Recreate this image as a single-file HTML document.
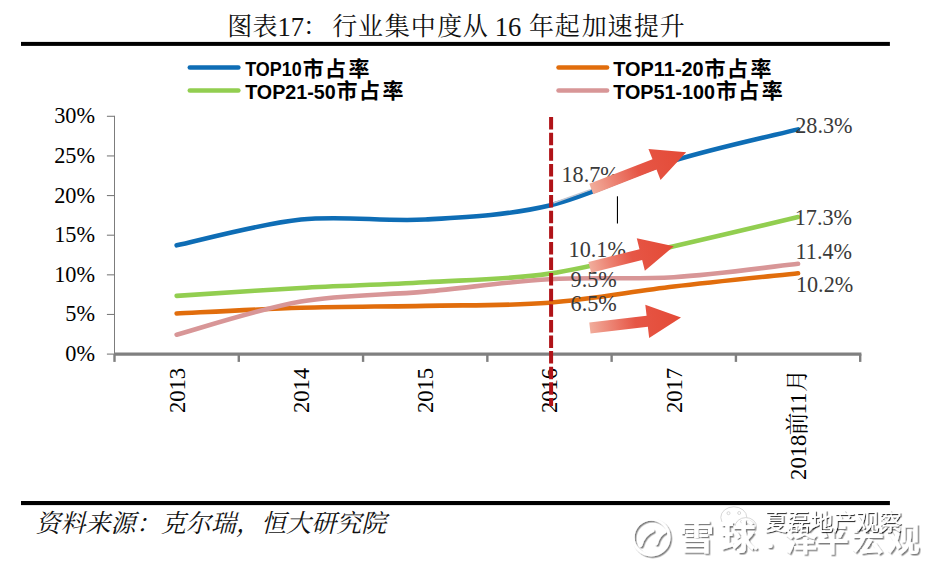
<!DOCTYPE html>
<html><head><meta charset="utf-8"><title>chart</title>
<style>html,body{margin:0;padding:0;background:#fff;overflow:hidden}svg{display:block}text{font-family:"Liberation Serif",serif}</style></head><body>
<svg width="932" height="564" viewBox="0 0 932 564">
<rect width="932" height="564" fill="#fff"/>
<rect x="21" y="41.9" width="868.9" height="4" fill="#000"/>
<rect x="21" y="501" width="868.9" height="4.1" fill="#000"/>
<path d="M114.5 115.8 V354.1" stroke="#7c7c7c" stroke-width="1" fill="none"/>
<path d="M106.9 354.1 H114.5" stroke="#7c7c7c" stroke-width="1.1" fill="none"/>
<path d="M106.9 314.47 H114.5" stroke="#7c7c7c" stroke-width="1.1" fill="none"/>
<path d="M106.9 274.83 H114.5" stroke="#7c7c7c" stroke-width="1.1" fill="none"/>
<path d="M106.9 235.2 H114.5" stroke="#7c7c7c" stroke-width="1.1" fill="none"/>
<path d="M106.9 195.57 H114.5" stroke="#7c7c7c" stroke-width="1.1" fill="none"/>
<path d="M106.9 155.93 H114.5" stroke="#7c7c7c" stroke-width="1.1" fill="none"/>
<path d="M106.9 116.3 H114.5" stroke="#7c7c7c" stroke-width="1.1" fill="none"/>
<path d="M114 354.1 H861.4" stroke="#808080" stroke-width="3.2" fill="none"/>
<path d="M114.5 354.1 V361.9" stroke="#808080" stroke-width="2.4" fill="none"/>
<path d="M238.78 354.1 V361.9" stroke="#808080" stroke-width="2.4" fill="none"/>
<path d="M363.07 354.1 V361.9" stroke="#808080" stroke-width="2.4" fill="none"/>
<path d="M487.35 354.1 V361.9" stroke="#808080" stroke-width="2.4" fill="none"/>
<path d="M611.63 354.1 V361.9" stroke="#808080" stroke-width="2.4" fill="none"/>
<path d="M735.92 354.1 V361.9" stroke="#808080" stroke-width="2.4" fill="none"/>
<path d="M860.2 354.1 V361.9" stroke="#808080" stroke-width="2.4" fill="none"/>
<text transform="translate(95.1 361.1) scale(1.0 1)" font-size="22.3" text-anchor="end" fill="#000">0%</text>
<text transform="translate(95.1 321.47) scale(1.0 1)" font-size="22.3" text-anchor="end" fill="#000">5%</text>
<text transform="translate(95.1 281.83) scale(1.0 1)" font-size="22.3" text-anchor="end" fill="#000">10%</text>
<text transform="translate(95.1 242.2) scale(1.0 1)" font-size="22.3" text-anchor="end" fill="#000">15%</text>
<text transform="translate(95.1 202.57) scale(1.0 1)" font-size="22.3" text-anchor="end" fill="#000">20%</text>
<text transform="translate(95.1 162.93) scale(1.0 1)" font-size="22.3" text-anchor="end" fill="#000">25%</text>
<text transform="translate(95.1 123.3) scale(1.0 1)" font-size="22.3" text-anchor="end" fill="#000">30%</text>
<path d="M176.64 245.35 C197.36 241.04 259.5 223.81 300.93 219.51 C342.35 215.2 383.78 221.84 425.21 219.51 C466.64 217.17 508.06 215.28 549.49 205.48 C590.92 195.67 632.35 173.37 673.78 160.69 C715.2 148.01 777.34 134.6 798.06 129.38" stroke="#0e6db5" stroke-width="4.6" stroke-linecap="round" stroke-linejoin="round" fill="none"/>
<path d="M176.64 313.44 C197.36 312.5 259.5 309.08 300.93 307.81 C342.35 306.54 383.78 306.67 425.21 305.83 C466.64 304.98 508.06 305.95 549.49 302.74 C590.92 299.52 632.35 291.48 673.78 286.56 C715.2 281.65 777.34 275.47 798.06 273.25" stroke="#e16d0c" stroke-width="4.6" stroke-linecap="round" stroke-linejoin="round" fill="none"/>
<path d="M176.64 295.84 C197.36 294.53 259.5 290.25 300.93 287.99 C342.35 285.73 383.78 284.68 425.21 282.28 C466.64 279.89 508.06 279.64 549.49 273.64 C590.92 267.65 632.35 255.74 673.78 246.3 C715.2 236.85 777.34 221.86 798.06 216.97" stroke="#92ce50" stroke-width="4.6" stroke-linecap="round" stroke-linejoin="round" fill="none"/>
<path d="M176.64 334.76 C197.36 329.22 259.5 308.73 300.93 301.55 C342.35 294.36 383.78 295.36 425.21 291.64 C466.64 287.91 508.06 281.6 549.49 279.19 C590.92 276.79 632.35 279.79 673.78 277.21 C715.2 274.64 777.34 265.98 798.06 263.74" stroke="#d89697" stroke-width="4.6" stroke-linecap="round" stroke-linejoin="round" fill="none"/>
<text transform="translate(561.5 181.5) scale(1.0 1)" font-size="22.2" fill="#3a3a3a">18.7%</text>
<text transform="translate(568.6 257.4) scale(1.0 1)" font-size="22.2" fill="#3a3a3a">10.1%</text>
<text transform="translate(570.6 287.1) scale(1.0 1)" font-size="22.2" fill="#3a3a3a">9.5%</text>
<text transform="translate(570.6 310.6) scale(1.0 1)" font-size="22.2" fill="#3a3a3a">6.5%</text>
<text transform="translate(795.2 133.1) scale(1.0 1)" font-size="22.2" fill="#3a3a3a">28.3%</text>
<text transform="translate(794.7 225.2) scale(1.0 1)" font-size="22.2" fill="#3a3a3a">17.3%</text>
<text transform="translate(795.6 258.9) scale(1.0 1)" font-size="22.2" fill="#3a3a3a">11.4%</text>
<text transform="translate(795.9 292.2) scale(1.0 1)" font-size="22.2" fill="#3a3a3a">10.2%</text>
<rect x="616.9" y="196.3" width="1.1" height="27.2" fill="#000"/>
<defs><linearGradient id="ag" x1="0" y1="0" x2="1" y2="0"><stop offset="0" stop-color="#f1ad9c"/><stop offset="0.25" stop-color="#ec8070"/><stop offset="0.5" stop-color="#e65646"/><stop offset="1" stop-color="#e44a36"/></linearGradient></defs>
<path d="M553.4 203 L590.6 189.6" stroke="#c3c7d2" stroke-width="1.5" fill="none"/>
<path transform="translate(591.3 189) rotate(-21.2)" d="M0 -5.5 H67.79 V-16.7 L101.79 0 L67.79 16.7 V5.5 H0Z" fill="url(#ag)"/>
<path transform="translate(589.8 267.3) rotate(-14.04)" d="M0 -5.5 H52.59 V-16.7 L86.59 0 L52.59 16.7 V5.5 H0Z" fill="url(#ag)"/>
<path transform="translate(589.9 328) rotate(-6.64)" d="M0 -5.5 H57.71 V-16.7 L91.71 0 L57.71 16.7 V5.5 H0Z" fill="url(#ag)"/>
<text transform="translate(184.64 413.1) scale(1.03 1) rotate(-90)" font-size="22.6" fill="#000">2013</text>
<text transform="translate(308.93 413.1) scale(1.03 1) rotate(-90)" font-size="22.6" fill="#000">2014</text>
<text transform="translate(433.21 413.1) scale(1.03 1) rotate(-90)" font-size="22.6" fill="#000">2015</text>
<text transform="translate(557.49 413.1) scale(1.03 1) rotate(-90)" font-size="22.6" fill="#000">2016</text>
<text transform="translate(681.78 413.1) scale(1.03 1) rotate(-90)" font-size="22.6" fill="#000">2017</text>
<g transform="translate(806.36 479.9) scale(1.03 1) rotate(-90)">
<text font-size="22.6" fill="#000">2018</text>
<text x="44.56" y="-1.5" font-size="22.6" fill="#000" style="font-family:'Liberation Serif','Noto Serif CJK SC',serif">前</text>
<text x="65.4" font-size="22.6" fill="#000">11</text>
<text x="87.88" y="-1.5" font-size="22.6" fill="#000" style="font-family:'Liberation Serif','Noto Serif CJK SC',serif">月</text>
</g>
<path d="M551.1 117.1 V406" stroke="#b01318" stroke-width="4" stroke-dasharray="12.5 3.1" fill="none"/>
<path d="M189.9 67.5 H238.3" stroke="#0e6db5" stroke-width="4.7" stroke-linecap="round" fill="none"/>
<text x="245.2" y="75.7" font-size="21" font-weight="bold" fill="#000" textLength="56.5" lengthAdjust="spacingAndGlyphs" style="font-family:'Liberation Sans','Noto Sans CJK SC',sans-serif">TOP10</text>
<text x="302.7 325 348.5" y="76.1" font-size="21" font-weight="bold" fill="#000" style="font-family:'Liberation Sans','Noto Sans CJK SC',sans-serif">市占率</text>
<path d="M189.9 90.5 H238.3" stroke="#92ce50" stroke-width="4.7" stroke-linecap="round" fill="none"/>
<text x="245.2" y="98.5" font-size="21" font-weight="bold" fill="#000" textLength="90.5" lengthAdjust="spacingAndGlyphs" style="font-family:'Liberation Sans','Noto Sans CJK SC',sans-serif">TOP21-50</text>
<text x="336.6 358.9 382.4" y="97.9" font-size="21" font-weight="bold" fill="#000" style="font-family:'Liberation Sans','Noto Sans CJK SC',sans-serif">市占率</text>
<path d="M558.6 67.5 H607" stroke="#e16d0c" stroke-width="4.7" stroke-linecap="round" fill="none"/>
<text x="613.2" y="75.7" font-size="21" font-weight="bold" fill="#000" textLength="90.5" lengthAdjust="spacingAndGlyphs" style="font-family:'Liberation Sans','Noto Sans CJK SC',sans-serif">TOP11-20</text>
<text x="704.6 726.9 750.4" y="76.1" font-size="21" font-weight="bold" fill="#000" style="font-family:'Liberation Sans','Noto Sans CJK SC',sans-serif">市占率</text>
<path d="M558.6 90.5 H607" stroke="#d89697" stroke-width="4.7" stroke-linecap="round" fill="none"/>
<text x="613.2" y="98.5" font-size="21" font-weight="bold" fill="#000" textLength="101.8" lengthAdjust="spacingAndGlyphs" style="font-family:'Liberation Sans','Noto Sans CJK SC',sans-serif">TOP51-100</text>
<text x="715.9 738.2 761.7" y="97.9" font-size="21" font-weight="bold" fill="#000" style="font-family:'Liberation Sans','Noto Sans CJK SC',sans-serif">市占率</text>
<text x="227.2 252.5" y="35" font-size="25" fill="#111" style="font-family:'Liberation Serif','Noto Serif CJK SC',serif">图表</text>
<text x="277.4" y="35.9" font-size="26.6" fill="#111">17</text>
<text x="303" y="35" font-size="25" fill="#111" style="font-family:'Liberation Serif','Noto Serif CJK SC',serif">：</text>
<text x="332.3 358 384.8 410.8 437.3 462.8" y="35" font-size="25" fill="#111" style="font-family:'Liberation Serif','Noto Serif CJK SC',serif">行业集中度从</text>
<text x="494.7" y="35.9" font-size="26.6" fill="#111">16</text>
<text x="529.1 554.8 581.7 607.4 634 659.8" y="35" font-size="25" fill="#111" style="font-family:'Liberation Serif','Noto Serif CJK SC',serif">年起加速提升</text>
<text x="35.4 60.47 85.54 110.61" y="532" font-size="25" font-style="italic" fill="#111" style="font-family:'Liberation Serif','Noto Serif CJK SC',serif">资料来源</text>
<text x="136" y="532" font-size="25" font-style="italic" fill="#111" style="font-family:'Liberation Serif','Noto Serif CJK SC',serif">：</text>
<text x="160.75 185.82 210.89" y="532" font-size="25" font-style="italic" fill="#111" style="font-family:'Liberation Serif','Noto Serif CJK SC',serif">克尔瑞</text>
<text x="236" y="532" font-size="25" font-style="italic" fill="#111" style="font-family:'Liberation Serif','Noto Serif CJK SC',serif">，</text>
<text x="261.03 286.1 311.17 336.24 361.31" y="532" font-size="25" font-style="italic" fill="#111" style="font-family:'Liberation Serif','Noto Serif CJK SC',serif">恒大研究院</text>
<defs><filter id="ws" x="-5%" y="-20%" width="110%" height="140%"><feDropShadow dx="1.5" dy="1.5" stdDeviation="0.6" flood-color="#000" flood-opacity="0.5"/></filter><filter id="ws2" x="-5%" y="-20%" width="110%" height="140%"><feDropShadow dx="1.1" dy="1.1" stdDeviation="0.35" flood-color="#000" flood-opacity="0.8"/></filter></defs>
<g fill="#fff" stroke="#d2d2d2" stroke-width="0.9"><ellipse cx="733.8" cy="517.4" rx="13" ry="10.6"/><ellipse cx="745.8" cy="527" rx="10.8" ry="9.4"/><circle cx="728.5" cy="513.2" r="1.5"/><circle cx="739.2" cy="513" r="1.5"/><circle cx="741.8" cy="521.6" r="1.2"/><circle cx="749.5" cy="521.6" r="1.2"/></g>
<g filter="url(#ws)" fill="#fff">
<circle cx="651.2" cy="537.2" r="17.9" fill="none" stroke="#fff" stroke-width="2.8"/>
<path d="M640.6 545.2 C642.2 538.6 646.6 533 652.4 530.6 M656.2 543.4 C657.4 538 660.6 533.6 665 531.4" fill="none" stroke="#fff" stroke-width="3.6" stroke-linecap="round"/>
<text x="679.1 720.5" y="550" font-size="35" font-weight="bold" fill="#fff" style="font-family:'Liberation Sans','Noto Sans CJK SC',sans-serif">雪球</text>
<circle cx="755.6" cy="548.2" r="1.5"/>
<circle cx="769.8" cy="545.4" r="2.7"/>
<text x="784.75 815.7 851.22 886.65" y="550.6" font-size="33" font-weight="bold" fill="#fff" style="font-family:'Liberation Sans','Noto Sans CJK SC',sans-serif">泽平宏观</text>
</g>
<g filter="url(#ws2)" fill="#fff">
<text x="764.4 787.3 810.2 833.1 856 878.9" y="530.2" font-size="22.9" fill="#fff" style="font-family:'Liberation Sans','Noto Sans CJK SC',sans-serif">夏磊地产观察</text>
</g>
</svg>
</body></html>
